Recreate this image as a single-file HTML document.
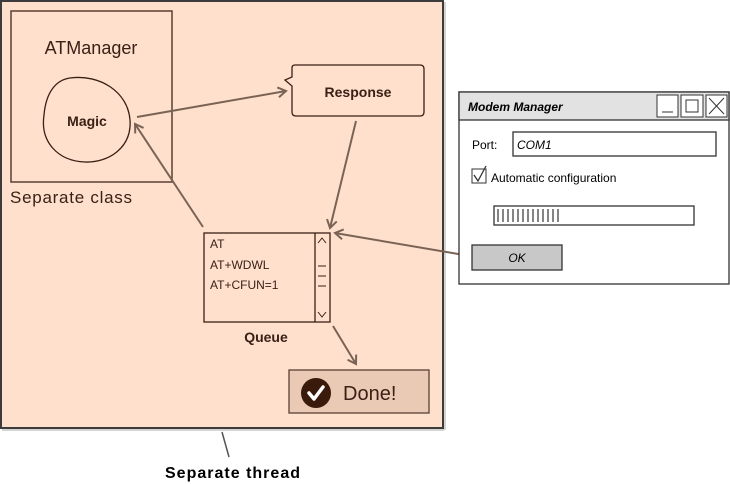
<!DOCTYPE html>
<html><head><meta charset="utf-8"><style>
html,body{margin:0;padding:0;background:#fff;width:730px;height:484px;overflow:hidden}
text{font-family:"Comic Sans MS","Liberation Sans",sans-serif}
</style></head><body>
<svg width="730" height="484" xmlns="http://www.w3.org/2000/svg">
<defs>
<marker id="a" markerWidth="12" markerHeight="12" refX="10" refY="6" orient="auto" markerUnits="userSpaceOnUse">
<path d="M2,1 L10,6 L2,11" fill="none" stroke="#7a6355" stroke-width="2"/>
</marker>
</defs>
<rect x="1" y="1" width="442" height="427" fill="#fee0cd" stroke="#3c3c3c" stroke-width="2"/>
<line x1="2" y1="430" x2="444" y2="430" stroke="#aaa" stroke-width="1"/>
<line x1="445" y1="2" x2="445" y2="430" stroke="#aaa" stroke-width="1"/>
<rect x="11" y="11" width="161" height="171" fill="none" stroke="#5a4035" stroke-width="1.5"/>
<text x="91" y="54" font-size="18" fill="#3a2015" text-anchor="middle">ATManager</text>
<path d="M70,78 C100,74 128,92 130,120 C132,148 108,163 85,162 C58,161 40,142 44,115 C46,92 56,80 70,78Z" fill="none" stroke="#3a2015" stroke-width="1.3"/>
<text x="87" y="126" font-size="14" font-weight="bold" fill="#3a2015" text-anchor="middle">Magic</text>
<text x="10" y="203" font-size="17" fill="#3a2015" textLength="122">Separate class</text>
<path d="M295,65 L420,65 Q424,65 424,69 L424,112 Q424,116 420,116 L296,116 Q292,116 292,112 L292,86 L285,80 L292,77 L292,68 Q292,65 295,65Z" fill="#fee0cd" stroke="#3a2015" stroke-width="1.3"/>
<text x="358" y="97" font-size="14" font-weight="bold" fill="#3a2015" text-anchor="middle">Response</text>
<rect x="204" y="233" width="126" height="89" fill="#fee0cd" stroke="#3a2015" stroke-width="1.3"/>
<line x1="315" y1="233" x2="315" y2="322" stroke="#3a2015" stroke-width="1.3"/>
<path d="M318,243 L322,238 L326,243 M318,312 L322,317 L326,312 M318,266 H326 M318,276 H326 M318,286 H326" fill="none" stroke="#3a2015" stroke-width="1"/>
<text x="210" y="248" font-size="12" fill="#3a2015">AT</text>
<text x="210" y="269" font-size="12" fill="#3a2015">AT+WDWL</text>
<text x="210" y="289" font-size="12" fill="#3a2015">AT+CFUN=1</text>
<text x="266" y="342" font-size="14" font-weight="bold" fill="#3a2015" text-anchor="middle">Queue</text>
<rect x="289" y="370" width="140" height="43" fill="#eacab5" stroke="#5a4035" stroke-width="1.3"/>
<circle cx="316" cy="393" r="15" fill="#3a1a0a"/>
<path d="M309,393 L314,399 L323,387" fill="none" stroke="#fff" stroke-width="3.5" stroke-linecap="round" stroke-linejoin="round"/>
<text x="343" y="400" font-size="20" fill="#3a2015">Done!</text>
<line x1="137" y1="117" x2="286" y2="91" stroke="#7a6355" stroke-width="2" marker-end="url(#a)"/>
<line x1="356" y1="121" x2="330" y2="228" stroke="#7a6355" stroke-width="2" marker-end="url(#a)"/>
<line x1="203" y1="227" x2="135" y2="124" stroke="#7a6355" stroke-width="2" marker-end="url(#a)"/>
<line x1="470" y1="256" x2="335" y2="233" stroke="#7a6355" stroke-width="2" marker-end="url(#a)"/>
<line x1="333" y1="326" x2="356" y2="364" stroke="#7a6355" stroke-width="2" marker-end="url(#a)"/>
<line x1="222" y1="432" x2="229" y2="457" stroke="#555" stroke-width="1.5"/>
<text x="165" y="478" font-size="16" font-weight="bold" fill="#000" textLength="135">Separate thread</text>
<rect x="459" y="92" width="270" height="192" fill="#fff" stroke="#333" stroke-width="1.3"/>
<rect x="459" y="92" width="270" height="28" fill="#e2e2e2" stroke="#333" stroke-width="1.3"/>
<text x="468" y="111" font-size="12" font-weight="bold" font-style="italic" fill="#000">Modem Manager</text>
<rect x="657" y="95" width="21" height="22" fill="#fff" stroke="#333"/>
<line x1="662" y1="112" x2="673" y2="112" stroke="#333"/>
<rect x="681" y="95" width="22" height="22" fill="#fff" stroke="#333"/>
<rect x="686" y="100" width="12" height="12" fill="none" stroke="#333"/>
<rect x="706" y="95" width="21" height="22" fill="#fff" stroke="#333"/>
<path d="M709,98 L724,114 M724,98 L709,114" stroke="#333"/>
<text x="472" y="149" font-size="12" fill="#000">Port:</text>
<rect x="513" y="132" width="203" height="24" fill="#fff" stroke="#333" stroke-width="1.3"/>
<text x="517" y="149" font-size="12" font-style="italic" fill="#000">COM1</text>
<rect x="472" y="169" width="14" height="14" fill="#fff" stroke="#333"/>
<path d="M474,175 L478,181 L486,166" fill="none" stroke="#333" stroke-width="1.3"/>
<text x="491" y="182" font-size="12" fill="#000">Automatic configuration</text>
<rect x="494" y="206" width="200" height="19" fill="#fff" stroke="#333" stroke-width="1.3"/>
<path d="M498,209v13M503,209v13M508,209v13M513,209v13M518,209v13M523,209v13M528,209v13M533,209v13M538,209v13M543,209v13M548,209v13M553,209v13M558,209v13" stroke="#333" stroke-width="1.2"/>
<rect x="472" y="245" width="90" height="25" fill="#c8c8c8" stroke="#333" stroke-width="1.3"/>
<text x="517" y="262" font-size="12" font-style="italic" fill="#000" text-anchor="middle">OK</text>
</svg>
</body></html>
